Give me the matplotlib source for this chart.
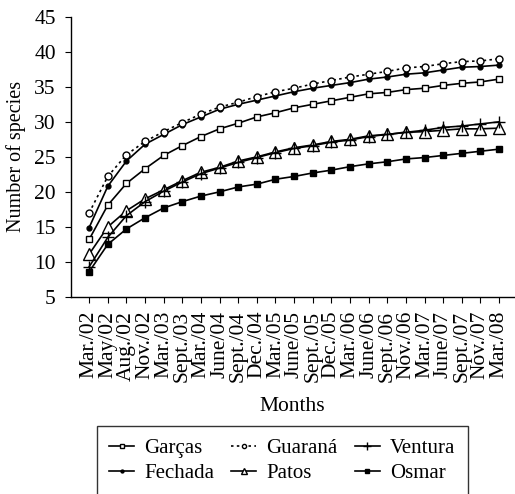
import matplotlib
matplotlib.use("Agg")
import matplotlib.pyplot as plt

months = ["Mar./02", "May/02", "Aug./02", "Nov./02", "Mar./03", "Sept./03", "Mar./04",
          "June/04", "Sept./04", "Dec./04", "Mar./05", "June/05", "Sept./05", "Dec./05",
          "Mar./06", "June/06", "Sept./06", "Nov./06", "Mar./07", "June/07", "Sept./07",
          "Nov./07", "Mar./08"]

garcas = [13.2, 18.1, 21.2, 23.3, 25.2, 26.6, 27.9, 29.0, 29.8, 30.7, 31.3, 32.0, 32.5,
          33.0, 33.5, 34.0, 34.2, 34.6, 34.8, 35.2, 35.5, 35.7, 36.1]
fechada = [14.9, 20.8, 24.4, 26.8, 28.2, 29.6, 30.7, 31.8, 32.5, 33.1, 33.7, 34.3, 34.8,
           35.2, 35.6, 36.1, 36.4, 36.8, 37.0, 37.4, 37.8, 37.9, 38.1]
guarana = [17.0, 22.2, 25.3, 27.2, 28.6, 29.9, 31.1, 32.1, 32.8, 33.6, 34.3, 34.8, 35.4,
           35.9, 36.4, 36.8, 37.2, 37.7, 37.9, 38.3, 38.6, 38.7, 39.0]
patos = [11.1, 15.0, 17.3, 19.0, 20.3, 21.6, 22.8, 23.5, 24.4, 25.0, 25.7, 26.3, 26.7,
         27.2, 27.5, 28.0, 28.2, 28.5, 28.6, 28.8, 29.0, 29.0, 29.1]
ventura = [9.3, 13.5, 16.6, 18.6, 20.1, 21.4, 22.6, 23.4, 24.2, 24.9, 25.6, 26.2, 26.6,
           27.1, 27.4, 27.9, 28.2, 28.5, 28.8, 29.2, 29.4, 29.7, 30.0]
osmar = [8.6, 12.5, 14.7, 16.3, 17.7, 18.6, 19.4, 20.0, 20.7, 21.1, 21.8, 22.2, 22.7,
         23.1, 23.6, 24.0, 24.3, 24.7, 24.9, 25.2, 25.5, 25.8, 26.1]

plt.rcParams['font.family'] = ['Liberation Serif', 'DejaVu Serif']

fig = plt.figure(figsize=(5.15, 4.94), dpi=100)
ax = fig.add_axes([0.138, 0.399, 0.860, 0.567])

x = list(range(len(months)))
lw = 1.2
k = dict(color='black', lw=lw)
ax.plot(x, garcas, marker='s', ms=5, mfc='white', mec='black', mew=1.0, label='Garças', **k)
ax.plot(x, fechada, marker='o', ms=3.5, mfc='black', mec='black', label='Fechada', **k)
ax.plot(x, guarana, marker='o', ms=5, mfc='white', mec='black', mew=1.0, ls=(0, (1.5, 2)),
        label='Guaraná', **k)
ax.plot(x, patos, marker='^', ms=8, mfc='white', mec='black', mew=1.0, label='Patos', **k)
ax.plot(x, ventura, marker='+', ms=9, mec='black', mew=1.0, label='Ventura', **k)
ax.plot(x, osmar, marker='s', ms=5, mfc='black', mec='black', label='Osmar', **k)

ax.set_xlim(-0.97, 22.8)
ax.set_ylim(5, 45)
ax.set_yticks(range(5, 50, 5))
ax.set_xticks(x)
ax.set_xticklabels(months, rotation=90, fontsize=15.5)
ax.tick_params(axis='y', labelsize=15.5, length=4, width=0.8, direction='out', pad=7)
ax.tick_params(axis='x', length=4, width=0.8, direction='out', pad=6)
for s in ['top', 'right']:
    ax.spines[s].set_visible(False)
for s in ['left', 'bottom']:
    ax.spines[s].set_linewidth(1.0)
ax.set_ylabel('Number of species', fontsize=14.5, labelpad=6)
ax.set_xlabel('Months', fontsize=15.5, labelpad=11)

handles, labels = ax.get_legend_handles_labels()
leg = fig.legend(handles, labels, ncol=3, loc='upper center', bbox_to_anchor=(0.548, 0.158),
                 fontsize=15, frameon=True, fancybox=False, edgecolor='black',
                 handlelength=1.2, handletextpad=0.5, columnspacing=0.8, labelspacing=0.25,
                 borderpad=0.6, markerscale=0.6)
leg.get_frame().set_linewidth(1.0)

fig.savefig('out.png', dpi=100)
